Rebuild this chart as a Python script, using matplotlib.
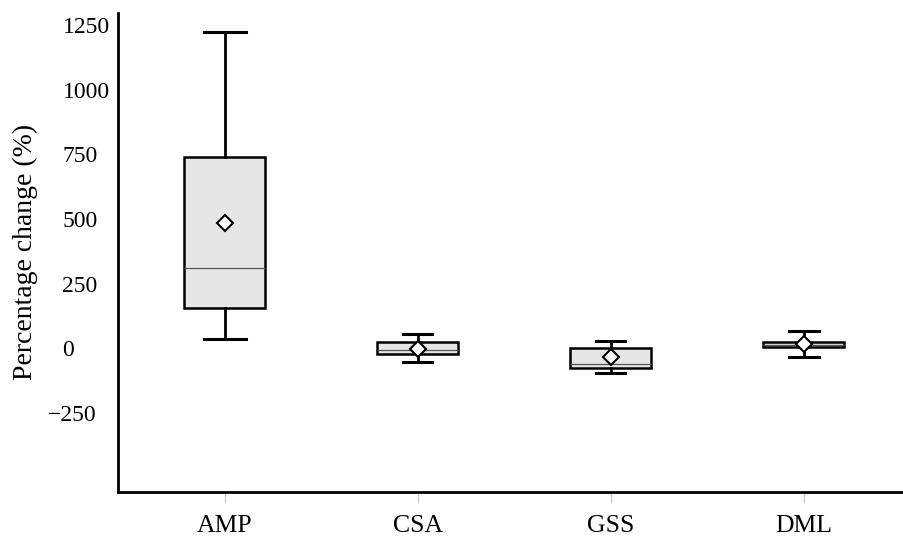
import matplotlib
matplotlib.use("Agg")
import matplotlib.pyplot as plt
import matplotlib.transforms as mtransforms

plt.rcParams["font.family"] = ["Liberation Serif", "DejaVu Serif"]

# summary statistics (percentage change, %)
categories = ["AMP", "CSA", "GSS", "DML"]
whis_lo = [35, -54, -97, -34]
q1 = [157, -23, -75, 4]
medians = [312, -8, -60, 14]
q3 = [740, 25, 2, 26]
whis_hi = [1224, 55, 29, 67]
means = [486, -2, -32, 15]

yticks = [-250, 0, 250, 500, 750, 1000, 1250]
ytick_labels = ["\u2212250", "0", "250", "500", "750", "1000", "1250"]

stats = []
for i, name in enumerate(categories):
    stats.append({"label": name, "whislo": whis_lo[i], "q1": q1[i],
                  "med": medians[i], "q3": q3[i], "whishi": whis_hi[i],
                  "mean": means[i], "fliers": []})

W, H = 904, 539
fig = plt.figure(figsize=(W / 100, H / 100), dpi=100)
ax = fig.add_axes([118 / W, 1 - 491.7 / H, 1 - 118 / W, (491.7 - 13) / H])

ax.bxp(stats, positions=range(len(categories)), widths=0.42,
       showmeans=True, patch_artist=True, capwidths=[0.22, 0.15, 0.15, 0.155],
       boxprops=dict(facecolor="#e6e6e6", edgecolor="black", linewidth=1.8),
       whiskerprops=dict(color="black", linewidth=2.0),
       capprops=dict(color="black", linewidth=2.2),
       medianprops=dict(color="#555555", linewidth=0.9),
       meanprops=dict(marker="D", markerfacecolor="white",
                      markeredgecolor="black", markersize=8.5,
                      markeredgewidth=1.5))

ax.set_xlim(-0.554, 3.52)
ax.set_ylim(-555, 1297)

for side in ("top", "right"):
    ax.spines[side].set_visible(False)
for side in ("left", "bottom"):
    ax.spines[side].set_linewidth(2.0)
    ax.spines[side].set_color("black")

ax.set_xticks(range(len(categories)), categories)
ax.tick_params(axis="x", color="#cccccc", length=8, width=1, labelsize=18.5, pad=9)
ax.set_yticks(yticks, ytick_labels)
ax.tick_params(axis="y", length=0, labelsize=17, pad=40)
for lab in ax.get_yticklabels():
    lab.set_horizontalalignment("left")
    if lab.get_text().startswith("\u2212"):
        lab.set_transform(lab.get_transform() +
                          mtransforms.ScaledTranslation(-15 / 100, 0, fig.dpi_scale_trans))

ax.set_ylabel("Percentage change (%)", fontsize=20)
ax.yaxis.set_label_coords(-0.102, 0.5)

fig.savefig("out.png", dpi=100, facecolor="white")
